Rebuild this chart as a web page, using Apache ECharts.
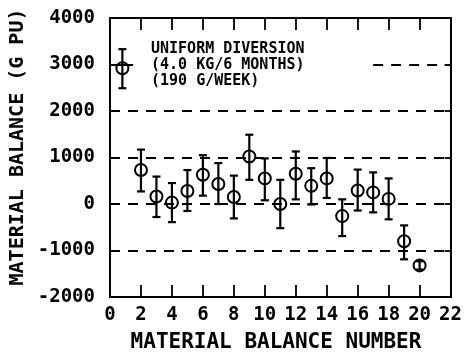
<!DOCTYPE html>
<html>
<head>
<meta charset="utf-8">
<script src="https://cdn.jsdelivr.net/npm/echarts@6/dist/echarts.min.js"></script>
<style>
  html, body { margin: 0; padding: 0; background: #fff; }
  #chart { width: 465px; height: 357px; }
</style>
</head>
<body>
<div id="chart"></div>
<script>
// material balance number vs. value (g Pu), with error bar ends
const balanceNo = [2, 3, 4, 5, 6, 7, 8, 9, 10, 11, 12, 13, 14, 15, 16, 17, 18, 19, 20];
const balanceVal = [730, 160, 30, 280, 630, 430, 150, 1020, 550, 0, 650, 390, 550, -260, 290, 250, 110, -800, -1320];
const errLow = [270, -280, -390, -150, 180, 0, -310, 520, 80, -520, 100, -10, 130, -690, -140, -180, -330, -1190, -1410];
const errHigh = [1170, 590, 450, 730, 1050, 880, 610, 1490, 980, 520, 1130, 770, 990, 100, 740, 680, 550, -460, -1230];

// legend sample mark: [x, value, low, high]
const legendMark = [[0.8, 2920, 2490, 3330]];
const legendLines = ['UNIFORM DIVERSION', '(4.0 KG/6 MONTHS)', '(190 G/WEEK)'];

// dashed reference levels
const dashLevels = [-1000, 0, 1000, 2000];
const legendDashLevel = 3000;
const legendDashFrom = 17;
const legendStubTo = 1.5;

const xTicks = { min: 0, max: 22, step: 2 };
const yTicks = { min: -2000, max: 4000, step: 1000 };

const FONT = 'DejaVu Sans Mono';

const points = balanceNo.map((x, i) => [x, balanceVal[i], errLow[i], errHigh[i]]);

function renderErr(params, api) {
  const x = api.value(0);
  const c = api.coord([x, api.value(1)]);
  const lo = api.coord([x, api.value(2)]);
  const hi = api.coord([x, api.value(3)]);
  const cap = 4;
  const st = { stroke: '#000', lineWidth: 2.2, fill: null };
  return {
    type: 'group',
    children: [
      { type: 'line', shape: { x1: lo[0], y1: lo[1], x2: hi[0], y2: hi[1] }, style: st },
      { type: 'line', shape: { x1: lo[0] - cap, y1: lo[1], x2: lo[0] + cap, y2: lo[1] }, style: st },
      { type: 'line', shape: { x1: hi[0] - cap, y1: hi[1], x2: hi[0] + cap, y2: hi[1] }, style: st },
      { type: 'circle', shape: { cx: c[0], cy: c[1], r: 6 }, style: { stroke: '#000', lineWidth: 2, fill: null } }
    ]
  };
}

const dashStyle = { color: '#000', width: 1.8, type: [10, 8] };
const plainNum = (v) => String(v);

const chart = echarts.init(document.getElementById('chart'), null, { renderer: 'canvas' });

const option = {
  animation: false,
  backgroundColor: '#fff',
  grid: { left: 110, right: 13, top: 18, bottom: 60 },
  xAxis: [
    {
      type: 'value',
      min: xTicks.min,
      max: xTicks.max,
      interval: xTicks.step,
      axisLine: { show: true, onZero: false, lineStyle: { color: '#000', width: 2 } },
      axisTick: { show: true, inside: true, length: 12, lineStyle: { color: '#000', width: 1.8 } },
      axisLabel: { color: '#000', fontFamily: FONT, fontWeight: 'bold', fontSize: 19, margin: 9, formatter: plainNum },
      splitLine: { show: false }
    },
    {
      type: 'value',
      position: 'top',
      min: xTicks.min,
      max: xTicks.max,
      interval: xTicks.step,
      axisLine: { show: true, onZero: false, lineStyle: { color: '#000', width: 2 } },
      axisTick: { show: true, inside: true, length: 12, lineStyle: { color: '#000', width: 1.8 } },
      axisLabel: { show: false },
      splitLine: { show: false }
    }
  ],
  yAxis: [
    {
      type: 'value',
      min: yTicks.min,
      max: yTicks.max,
      interval: yTicks.step,
      axisLine: { show: true, onZero: false, lineStyle: { color: '#000', width: 2 } },
      axisTick: { show: true, inside: true, length: 6, lineStyle: { color: '#000', width: 1.8 } },
      axisLabel: { color: '#000', fontFamily: FONT, fontWeight: 'bold', fontSize: 19, margin: 15, formatter: plainNum },
      splitLine: { show: false }
    },
    {
      type: 'value',
      position: 'right',
      min: yTicks.min,
      max: yTicks.max,
      interval: yTicks.step,
      axisLine: { show: true, onZero: false, lineStyle: { color: '#000', width: 2 } },
      axisTick: { show: true, inside: true, length: 6, lineStyle: { color: '#000', width: 1.8 } },
      axisLabel: { show: false },
      splitLine: { show: false }
    }
  ],
  graphic: [
    {
      type: 'text',
      x: 18,
      y: 147,
      rotation: Math.PI / 2,
      style: {
        text: 'MATERIAL BALANCE (G PU)',
        fill: '#000',
        font: 'bold 20px "' + FONT + '"',
        align: 'center',
        verticalAlign: 'middle'
      }
    },
    {
      type: 'text',
      x: 276,
      y: 343,
      style: {
        text: 'MATERIAL BALANCE NUMBER',
        fill: '#000',
        font: 'bold 21px "' + FONT + '"',
        align: 'center',
        verticalAlign: 'middle'
      }
    },
    {
      type: 'text',
      x: 151,
      y: 41,
      style: {
        text: legendLines.join('\n'),
        fill: '#000',
        font: 'bold 15px "' + FONT + '"',
        lineHeight: 16,
        align: 'left',
        verticalAlign: 'top'
      }
    }
  ],
  series: [
    {
      name: 'data',
      type: 'custom',
      renderItem: renderErr,
      data: points,
      z: 5,
      markLine: {
        silent: true,
        symbol: 'none',
        label: { show: false },
        lineStyle: dashStyle,
        data: dashLevels.map((v) => ({ yAxis: v }))
          .concat([
            [{ coord: [legendDashFrom, legendDashLevel] }, { coord: [xTicks.max, legendDashLevel] }],
            [
              { coord: [xTicks.min, legendDashLevel], lineStyle: { type: 'solid', width: 2 } },
              { coord: [legendStubTo, legendDashLevel] }
            ]
          ])
      }
    },
    {
      name: 'legend',
      type: 'custom',
      renderItem: renderErr,
      data: legendMark,
      z: 5
    }
  ]
};

chart.setOption(option);
</script>
</body>
</html>
